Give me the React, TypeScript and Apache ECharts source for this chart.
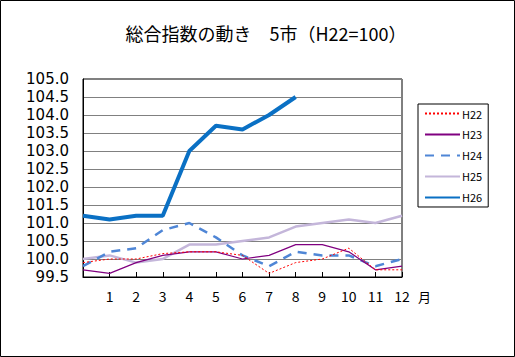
import React, { useEffect, useRef } from "react";
import * as echarts from "echarts";

const months = ["", "1", "2", "3", "4", "5", "6", "7", "8", "9", "10", "11", "12"];
const h22 = [99.9, 100.0, 100.0, 100.15, 100.2, 100.2, 100.1, 99.6, 99.9, 100.0, 100.3, 99.7, 99.7];
const h23 = [99.7, 99.6, 99.9, 100.1, 100.2, 100.2, 100.0, 100.1, 100.4, 100.4, 100.2, 99.7, 99.8];
const h24 = [99.8, 100.2, 100.3, 100.8, 101.0, 100.6, 100.1, 99.8, 100.2, 100.1, 100.1, 99.8, 100.0];
const h25 = [100.0, 100.1, 99.9, 100.0, 100.4, 100.4, 100.5, 100.6, 100.9, 101.0, 101.1, 101.0, 101.2];
const h26 = [101.2, 101.1, 101.2, 101.2, 103.0, 103.7, 103.6, 104.0, 104.5];

const FONT = "'Noto Sans CJK JP', sans-serif";

export default function App() {
  const ref = useRef<HTMLDivElement>(null);
  useEffect(() => {
    if (!ref.current) return;
    const chart = echarts.init(ref.current, null, { renderer: "svg" });
    const mk = (name: string, data: number[], color: string, width: number, type: any, z: number) => ({
      name,
      type: "line",
      data,
      symbol: "none",
      z,
      lineStyle: { color, width, type },
      itemStyle: { color },
    });
    chart.setOption({
      animation: false,
      backgroundColor: "#fff",
      textStyle: { fontFamily: FONT },
      title: {
        text: "総合指数の動き　5市（H22=100）",
        left: 261,
        textAlign: "center",
        top: 19,
        textStyle: { fontSize: 18, fontWeight: "normal", color: "#000", fontFamily: FONT },
      },
      grid: {
        left: 83,
        top: 79,
        width: 319,
        height: 198,
        show: true,
        borderColor: "#000",
        borderWidth: 1,
        containLabel: false,
      },
      legend: {
        orient: "vertical",
        left: 418,
        top: 104,
        width: 68,
        height: 97,
        padding: [4, 6, 4, 6],
        borderColor: "#000",
        borderWidth: 1,
        itemWidth: 35,
        itemHeight: 10,
        itemGap: 10,
        itemStyle: { opacity: 0 },
        textStyle: { fontSize: 11, color: "#000", fontFamily: FONT, padding: [0, 0, 0, -3] },
        data: ["H22", "H23", "H24", "H25", "H26"],
      },
      xAxis: {
        type: "category",
        data: months,
        boundaryGap: false,
        axisLine: { lineStyle: { color: "#000", width: 1 } },
        axisTick: { inside: true, length: 5, lineStyle: { color: "#000" } },
        axisLabel: { color: "#000", fontSize: 14, margin: 12, fontFamily: FONT, interval: 0 },
        splitLine: { show: false },
      },
      yAxis: {
        type: "value",
        min: 99.5,
        max: 105,
        interval: 0.5,
        axisLine: { show: true, lineStyle: { color: "#000" } },
        axisTick: { show: false },
        axisLabel: {
          color: "#000",
          fontSize: 15,
          lineHeight: 15,
          margin: 14,
          fontFamily: "'DejaVu Sans', sans-serif",
          formatter: (v: number) => v.toFixed(1),
        },
        splitLine: { show: true, lineStyle: { color: "#808080", width: 1 } },
      },
      graphic: [
        {
          type: "rect",
          shape: { x: 0.5, y: 0.5, width: 514, height: 356 },
          style: { fill: "none", stroke: "#000", lineWidth: 1 },
          z: 100,
        },
        {
          type: "text",
          x: 418,
          y: 290,
          style: { text: "月", fontSize: 13, fill: "#000", fontFamily: FONT },
        },
      ],
      series: [
        mk("H22", h22, "#ff0000", 1, [2, 2], 5),
        mk("H23", h23, "#800080", 1.2, "solid", 4),
        mk("H24", h24, "#4f86d6", 2.5, [9, 7], 3),
        mk("H25", h25, "#c4b6da", 2.5, "solid", 2),
        mk("H26", h26, "#0a70c4", 4, "solid", 6),
      ],
    });
    return () => chart.dispose();
  }, []);
  return (
    <div
      ref={ref}
      style={{ position: "fixed", left: 0, top: 0, width: 515, height: 357 }}
    />
  );
}
